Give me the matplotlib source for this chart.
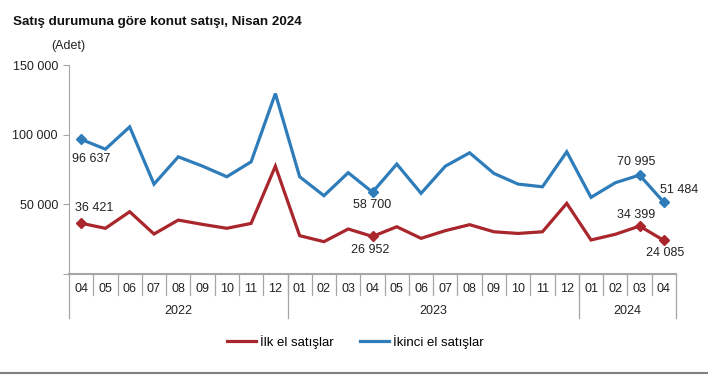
import numpy as np
import matplotlib.pyplot as plt
from matplotlib.lines import Line2D
from matplotlib.ticker import FuncFormatter
from matplotlib import font_manager

plt.rcParams['font.family'] = ['Liberation Sans', 'DejaVu Sans']

months = ['04', '05', '06', '07', '08', '09', '10', '11', '12',
          '01', '02', '03', '04', '05', '06', '07', '08', '09', '10', '11', '12',
          '01', '02', '03', '04']
years = ['2022', '2023', '2024']
year_counts = [9, 12, 4]

ilk_el = [36421, 32800, 44700, 28700, 38700, 35600, 32800, 36300, 77400,
          27500, 23200, 32300, 26952, 33900, 25600, 31100, 35400, 30300, 29100, 30300, 50700,
          24400, 28500, 34399, 24085]
ikinci_el = [96637, 89600, 105600, 64500, 84100, 77400, 69800, 80500, 129500,
             69800, 56200, 72700, 58700, 78900, 57900, 77400, 87000, 72200, 64500, 62600, 87700,
             55000, 65500, 70995, 51484]

marked = [0, 12, 23, 24]
# label offsets in pixels (dx, dy)
ilk_offsets = {0: (13, 15), 12: (-2, -14), 23: (-3, 11), 24: (1, -13)}
ikinci_offsets = {0: (10, -20), 12: (0, -13), 23: (-3, 13), 24: (15, 12)}

RED = '#A8262C'
BLUE = '#2E7DBA'
GRAY = '#A6A6A6'

names = {f.name for f in font_manager.fontManager.ttflist}
narrow = 'Liberation Sans Narrow' if 'Liberation Sans Narrow' in names else 'Liberation Sans'

fig = plt.figure(figsize=(7.08, 3.75), dpi=100)
ax = fig.add_axes([69 / 708, 101 / 375, 607 / 708, 209 / 375])

x = np.arange(len(months))
ax.plot(x, ilk_el, color=RED, lw=2.3, label='İlk el satışlar', solid_joinstyle='miter')
ax.plot(x, ikinci_el, color=BLUE, lw=2.3, label='İkinci el satışlar', solid_joinstyle='miter')
ax.plot(x[marked], np.array(ilk_el)[marked], 'D', color=RED, ms=5.5, ls='none')
ax.plot(x[marked], np.array(ikinci_el)[marked], 'D', color=BLUE, ms=5.5, ls='none')

def fmt(v):
    return f'{v:,}'.replace(',', ' ')

for i, (dx, dy) in ilk_offsets.items():
    ax.annotate(fmt(ilk_el[i]), (x[i], ilk_el[i]), xytext=(dx, dy), textcoords='offset pixels',
                ha='center', va='center', fontsize=9, color='#222222')
for i, (dx, dy) in ikinci_offsets.items():
    ax.annotate(fmt(ikinci_el[i]), (x[i], ikinci_el[i]), xytext=(dx, dy), textcoords='offset pixels',
                ha='center', va='center', fontsize=9, color='#222222')

ax.set_xlim(-0.5, len(months) - 0.5)
ax.set_ylim(0, 150000)
ax.set_yticks([0, 50000, 100000, 150000])
ax.yaxis.set_major_formatter(FuncFormatter(lambda v, p: fmt(int(v)) if v > 0 else ''))
ax.tick_params(axis='y', length=4, color=GRAY, labelsize=9, labelcolor='#222222', pad=4)
ax.set_xticks([])
for s in ['top', 'right']:
    ax.spines[s].set_visible(False)
ax.spines['left'].set_color(GRAY)
ax.spines['bottom'].set_color(GRAY)
ax.spines['bottom'].set_linewidth(1.5)

# category axis: month separators and labels
trans = ax.get_xaxis_transform()
for i in range(1, len(months)):
    ax.plot([i - 0.5, i - 0.5], [0, -0.10], color=GRAY, lw=0.9, transform=trans, clip_on=False)
for i, m in enumerate(months):
    ax.text(i, -0.072, m, ha='center', va='center', fontsize=9, color='#222222',
            transform=trans, clip_on=False)

# year separators and labels
start = 0
edges = [-0.5]
for y, n in zip(years, year_counts):
    ax.text(start + (n - 1) / 2, -0.175, y, ha='center', va='center', fontsize=9,
            color='#222222', transform=trans, clip_on=False)
    start += n
    edges.append(start - 0.5)
for e in edges:
    ax.plot([e, e], [0, -0.21], color=GRAY, lw=0.9, transform=trans, clip_on=False)

fig.text(13 / 708, 1 - 22 / 375, 'Satış durumuna göre konut satışı, Nisan 2024',
         fontsize=9.6, fontweight='bold', va='center', ha='left', color='#111111')
fig.text(68 / 708, 1 - 46 / 375, '(Adet)', fontsize=9, va='center', ha='center', color='#222222')

fig.legend(loc='center', bbox_to_anchor=(355 / 708, 1 - 342 / 375), ncol=2, frameon=False,
           prop={'family': narrow, 'size': 9.5}, handlelength=2.2, handletextpad=0.3,
           columnspacing=2.0)

fig.add_artist(Line2D([0, 1], [0.005, 0.005], color='#808080', lw=1.5, transform=fig.transFigure))

fig.savefig('out.png', dpi=100)
